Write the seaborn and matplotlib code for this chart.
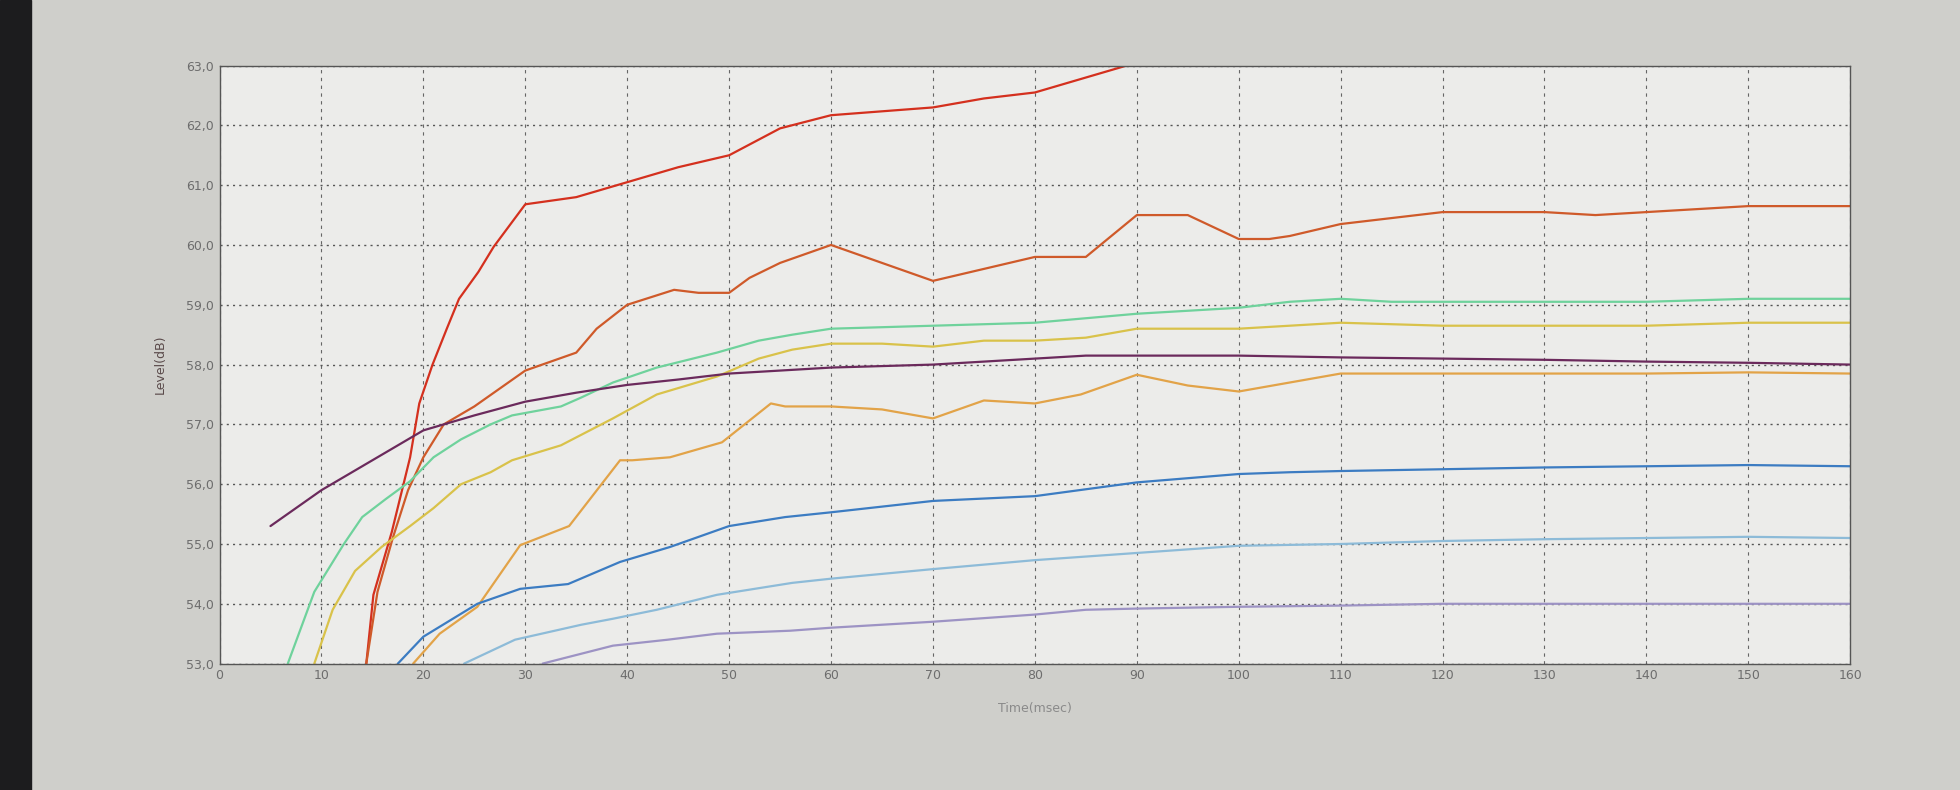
import matplotlib
matplotlib.use("Agg")
import matplotlib.pyplot as plt
import matplotlib.ticker as mticker
from matplotlib.patches import Rectangle
import numpy as np
import pandas as pd
import seaborn as sns

# --- data (time in msec, level in dB) ---
red_x = [14.4, 15.1, 16.9, 18.7, 19.6, 20.9, 22.3, 23.5, 25.4, 26.9, 30, 35, 40, 45, 50, 55, 60, 62.3, 70, 75, 80, 84.6, 89, 92]
red_y = [53.0, 54.15, 55.2, 56.45, 57.35, 58.0, 58.6, 59.1, 59.55, 59.97, 60.68, 60.8, 61.05, 61.3, 61.5, 61.95, 62.17, 62.2, 62.3, 62.45, 62.55, 62.78, 63.0, 63.2]

redorange_x = [14.4, 15.5, 17, 18.5, 20, 22, 25, 30, 35, 37, 40, 44.6, 47, 50, 52, 55, 60, 65, 70, 75, 80, 85, 90, 95, 100, 103, 105, 110, 115, 120, 125, 130, 135, 140, 145, 150, 155, 160]
redorange_y = [53.0, 54.2, 55.1, 55.9, 56.45, 57.0, 57.3, 57.9, 58.2, 58.6, 59.0, 59.25, 59.2, 59.2, 59.45, 59.7, 60.0, 59.7, 59.4, 59.6, 59.8, 59.8, 60.5, 60.5, 60.1, 60.1, 60.15, 60.35, 60.45, 60.55, 60.55, 60.55, 60.5, 60.55, 60.6, 60.65, 60.65, 60.65]

green_x = [6.7, 9.3, 12.2, 14, 16.3, 18.7, 21, 23.7, 26.6, 28.7, 33.5, 35.5, 38.6, 42.9, 48.8, 52.9, 56.2, 60, 70, 80, 90, 100, 105, 110, 115, 120, 130, 140, 150, 160]
green_y = [53.0, 54.2, 55.0, 55.45, 55.75, 56.05, 56.45, 56.75, 57.0, 57.15, 57.3, 57.45, 57.7, 57.95, 58.2, 58.4, 58.5, 58.6, 58.65, 58.7, 58.85, 58.95, 59.05, 59.1, 59.05, 59.05, 59.05, 59.05, 59.1, 59.1]

yellow_x = [9.3, 11.1, 13.3, 15.9, 18.7, 21, 23.7, 26.6, 28.7, 33.5, 38.6, 42.9, 48.8, 52.9, 56.2, 60, 65, 70, 75, 80, 85, 90, 100, 110, 120, 130, 140, 150, 160]
yellow_y = [53.0, 53.9, 54.55, 54.95, 55.3, 55.6, 56.0, 56.2, 56.4, 56.65, 57.1, 57.5, 57.8, 58.1, 58.25, 58.35, 58.35, 58.3, 58.4, 58.4, 58.45, 58.6, 58.6, 58.7, 58.65, 58.65, 58.65, 58.7, 58.7]

purple_x = [5, 10, 15, 20, 25, 30, 35, 40, 45, 50, 55, 60, 70, 80, 85, 90, 100, 110, 120, 130, 140, 150, 160]
purple_y = [55.3, 55.9, 56.4, 56.9, 57.15, 57.38, 57.53, 57.66, 57.75, 57.85, 57.9, 57.95, 58.0, 58.1, 58.15, 58.15, 58.15, 58.12, 58.1, 58.08, 58.05, 58.03, 58.0]

orange_x = [19, 21.6, 25.3, 29.5, 34.3, 39.3, 40.5, 44.2, 49.3, 54.1, 55.5, 60, 65, 70, 75, 80, 84.5, 90, 95, 100, 105, 110, 115, 120, 130, 140, 150, 160]
orange_y = [53.0, 53.5, 53.95, 54.98, 55.3, 56.4, 56.4, 56.45, 56.7, 57.35, 57.3, 57.3, 57.25, 57.1, 57.4, 57.35, 57.5, 57.83, 57.65, 57.55, 57.7, 57.85, 57.85, 57.85, 57.85, 57.85, 57.87, 57.85]

blue_x = [17.5, 20, 25.3, 29.5, 34.2, 39.3, 44.2, 50, 55.5, 60, 70, 80, 90, 100, 105, 110, 120, 130, 140, 150, 160]
blue_y = [53.0, 53.45, 54.0, 54.25, 54.33, 54.7, 54.95, 55.3, 55.45, 55.53, 55.72, 55.8, 56.03, 56.17, 56.2, 56.22, 56.25, 56.28, 56.3, 56.32, 56.3]

lightblue_x = [24, 29, 35.5, 38.6, 42.9, 48.8, 56.2, 60, 70, 80, 90, 100, 110, 120, 130, 140, 150, 160]
lightblue_y = [53.0, 53.4, 53.65, 53.75, 53.9, 54.15, 54.35, 54.42, 54.58, 54.73, 54.85, 54.97, 55.0, 55.05, 55.08, 55.1, 55.12, 55.1]

lavender_x = [31.7, 38.6, 44, 48.8, 56, 60, 70, 80, 85, 90, 100, 110, 120, 130, 140, 150, 160]
lavender_y = [53.0, 53.3, 53.4, 53.5, 53.55, 53.6, 53.7, 53.82, 53.9, 53.92, 53.95, 53.97, 54.0, 54.0, 54.0, 54.0, 54.0]

series = {
    "red": (red_x, red_y),
    "redorange": (redorange_x, redorange_y),
    "green": (green_x, green_y),
    "yellow": (yellow_x, yellow_y),
    "purple": (purple_x, purple_y),
    "orange": (orange_x, orange_y),
    "blue": (blue_x, blue_y),
    "lightblue": (lightblue_x, lightblue_y),
    "lavender": (lavender_x, lavender_y),
}
palette = {
    "red": "#d4301e",
    "redorange": "#cf5a2a",
    "green": "#6fd29c",
    "yellow": "#d9c24a",
    "purple": "#6b2a5c",
    "orange": "#e2a348",
    "blue": "#3c7cc2",
    "lightblue": "#8dbbd8",
    "lavender": "#9d93c4",
}

# long-form table for seaborn
df = pd.concat(
    [pd.DataFrame({"time": xs, "level": ys, "curve": name}) for name, (xs, ys) in series.items()],
    ignore_index=True,
)

sns.set_theme(style="white")
plt.rcParams["font.family"] = ["DejaVu Sans"]

fig = plt.figure(figsize=(19.6, 7.9), dpi=100, facecolor="#cfcfcb")
# dark monitor bezel on the left edge of the photo
fig.add_artist(Rectangle((0, 0), 0.016, 1, transform=fig.transFigure, color="#1c1c1e", zorder=0))

ax = fig.add_axes([0.112, 0.16, 0.832, 0.757])
ax.set_facecolor("#ececea")

sns.lineplot(
    data=df, x="time", y="level", hue="curve", palette=palette,
    estimator=None, sort=False, linewidth=1.6, legend=False, ax=ax,
)

ax.set_xlim(0, 160)
ax.set_ylim(53, 63)
ax.set_xticks(np.arange(0, 161, 10))
ax.set_yticks(np.arange(53, 63.1, 1))
ax.yaxis.set_major_formatter(mticker.FuncFormatter(lambda v, p: f"{v:.1f}".replace(".", ",")))
# vertical grid dashed, horizontal grid dotted, like the screen
ax.xaxis.grid(True, color="#666666", linestyle=(0, (3, 4)), linewidth=0.8)
ax.yaxis.grid(True, color="#555555", linestyle=(0, (1.5, 3)), linewidth=1.0)
for sp in ax.spines.values():
    sp.set_color("#555555")
    sp.set_linewidth(1.0)
ax.tick_params(axis="both", labelsize=9, colors="#6d6d6d", length=0, pad=4)
ax.set_xlabel("Time(msec)", fontsize=9, color="#8a8a8a", labelpad=14)
ax.set_ylabel("Level(dB)", fontsize=9, color="#5a4a4a", labelpad=14)

fig.savefig("out.png", dpi=100, facecolor=fig.get_facecolor())
